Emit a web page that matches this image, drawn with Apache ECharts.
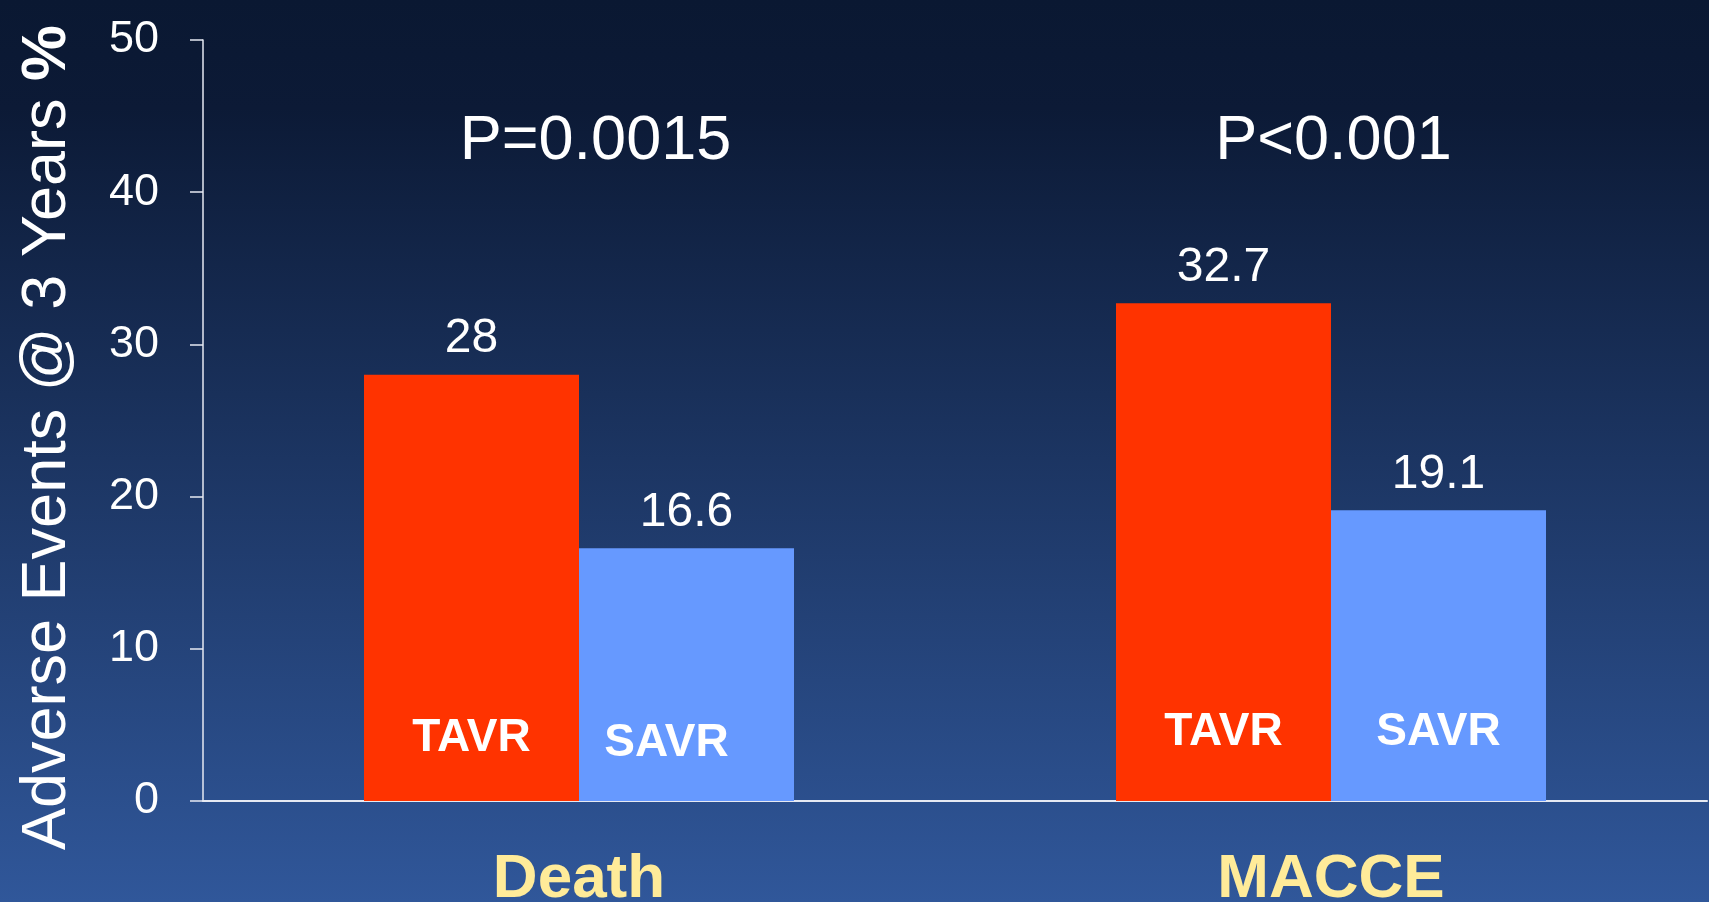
<!DOCTYPE html>
<html>
<head>
<meta charset="utf-8">
<script src="https://cdn.jsdelivr.net/npm/echarts@6/dist/echarts.min.js"></script>
<style>
  html, body { margin: 0; padding: 0; }
  #chart { width: 1709px; height: 902px; }
</style>
</head>
<body>
<div id="chart"></div>
<script>
// data
var categories = ['Death', 'MACCE'];
var tavr = [28, 32.7];
var savr = [16.6, 19.1];
var pValues = ['P=0.0015', 'P<0.001'];
var pLevel = 43.3; // height (in %) where the p-values sit
var yTicks = { min: 0, max: 50, step: 10 };

var chart = echarts.init(document.getElementById('chart'));
var font = '"Liberation Sans", Arial, sans-serif';

function valueSeries(name, data, color) {
    return {
        name: name,
        type: 'bar',
        xAxisIndex: 0,
        data: data,
        barWidth: 215,
        barGap: '0%',
        itemStyle: { color: color },
        label: {
            show: true,
            position: 'top',
            distance: 12,
            color: '#fff',
            fontFamily: font,
            fontSize: 48
        }
    };
}

// transparent copy on a hidden axis, only to carry the name inside the bar
function nameSeries(name, data, shifts) {
    return {
        name: name + ' tag',
        type: 'bar',
        xAxisIndex: 1,
        data: data.map(function (v, i) {
            return { value: v, label: { offset: shifts[i] } };
        }),
        barWidth: 215,
        barGap: '0%',
        silent: true,
        itemStyle: { color: 'rgba(0,0,0,0)' },
        label: {
            show: true,
            position: 'insideBottom',
            distance: 40,
            formatter: name,
            color: '#fff',
            fontFamily: font,
            fontWeight: 'bold',
            fontSize: 46
        }
    };
}

var tavrSeries = valueSeries('TAVR', tavr, '#ff3300');
var pShift = [[124, 0], [110, 0]];
tavrSeries.markPoint = {
    symbol: 'circle',
    symbolSize: 0,
    label: {
        show: true,
        formatter: '{b}',
        color: '#fff',
        fontFamily: font,
        fontSize: 63
    },
    data: categories.map(function (c, i) {
        return { name: pValues[i], coord: [c, pLevel], label: { offset: pShift[i] } };
    })
};

var option = {
    backgroundColor: {
        type: 'linear', x: 0, y: 0, x2: 0, y2: 1,
        colorStops: [
            { offset: 0, color: '#0a1832' },
            { offset: 0.12, color: '#0c1a36' },
            { offset: 1, color: '#30579a' }
        ]
    },
    animation: false,
    grid: { left: 203, right: 2, top: 40, bottom: 101, outerBoundsMode: 'none' },
    xAxis: [{
        type: 'category',
        data: categories,
        axisLine: { lineStyle: { color: '#e6e9f2', width: 2 } },
        axisTick: { length: 11, lineStyle: { color: '#e6e9f2', width: 1.5 } },
        axisLabel: {
            margin: 48,
            color: '#ffeb99',
            fontFamily: font,
            fontWeight: 'bold',
            fontSize: 62
        }
    }, {
        type: 'category',
        data: categories,
        show: false
    }],
    yAxis: {
        type: 'value',
        min: yTicks.min,
        max: yTicks.max,
        interval: yTicks.step,
        splitLine: { show: false },
        axisLine: { show: true, lineStyle: { color: '#e6e9f2', width: 1.5 } },
        axisTick: { show: true, length: 13, lineStyle: { color: '#e6e9f2', width: 1.5 } },
        axisLabel: {
            margin: 44,
            color: '#fff',
            fontFamily: font,
            fontSize: 45
        },
        name: '{a|Adverse Events @ 3 Years }{b|%}',
        nameLocation: 'middle',
        nameGap: 124,
        nameTextStyle: {
            padding: [0, 34, 0, 0],
            rich: {
                a: { color: '#fff', fontFamily: font, fontSize: 63 },
                b: { color: '#fff', fontFamily: font, fontSize: 63, fontWeight: 'bold' }
            }
        }
    },
    series: [
        tavrSeries,
        valueSeries('SAVR', savr, '#6699ff'),
        nameSeries('TAVR', tavr, [[0, 0], [0, -6]]),
        nameSeries('SAVR', savr, [[-20, 5], [0, -6]])
    ]
};

chart.setOption(option);
</script>
</body>
</html>
